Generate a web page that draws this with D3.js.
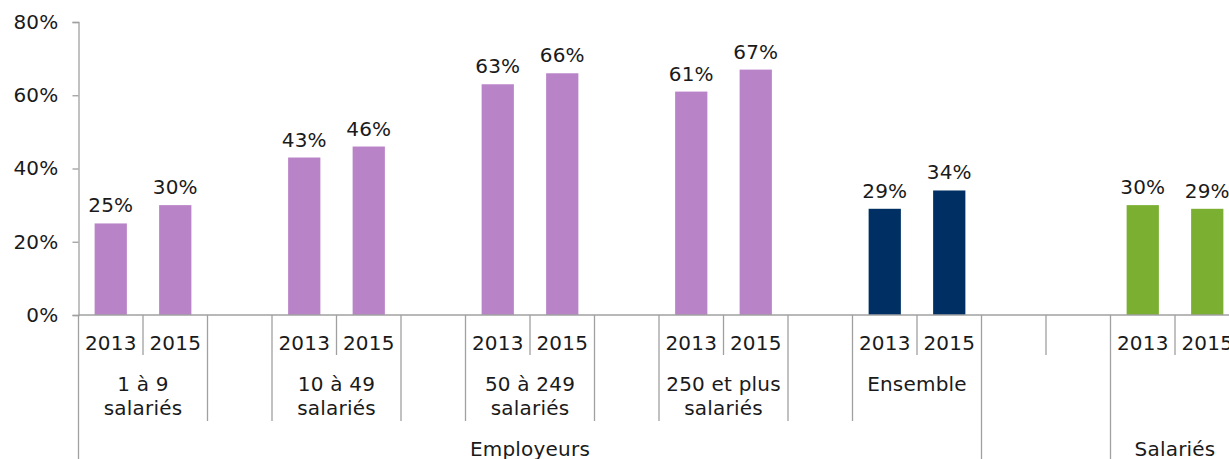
<!DOCTYPE html>
<html>
<head>
<meta charset="utf-8">
<script src="https://cdn.jsdelivr.net/npm/d3@7"></script>
<style>
  html, body { margin: 0; padding: 0; background: #fff; overflow: hidden; }
  svg text { font-family: "DejaVu Sans", Verdana, sans-serif; font-size: 20px; fill: #1a1a1a; letter-spacing: 0.2px; }
</style>
</head>
<body>
<svg id="chart" width="1229" height="459"></svg>
<script>
// Share (%) by year, grouped by company size, then overall and employees
const years = ["2013", "2015"];
const sizeGroups = [["1 à 9", "salariés"], ["10 à 49", "salariés"], ["50 à 249", "salariés"], ["250 et plus", "salariés"], ["Ensemble"]];
const employeurs2013 = [25, 43, 63, 61, 29];
const employeurs2015 = [30, 46, 66, 67, 34];
const salaries2013 = [30];
const salaries2015 = [29];
const topGroups = ["Employeurs", "", "Salariés"];
const yTicks = [0, 20, 40, 60, 80];

const purple = "#b983c8", navy = "#003063", green = "#7aaf31";

// Build the slot list: each slot is one position on the category axis
const slots = [];
sizeGroups.forEach((g, i) => {
  const color = i === sizeGroups.length - 1 ? navy : purple;
  const vals = [employeurs2013[i], employeurs2015[i]];
  years.forEach((y, j) => slots.push({ top: 0, mid: "g" + i, year: y, value: vals[j], color }));
  if (i < sizeGroups.length - 1) slots.push({ top: 0, mid: "s" + i, year: "", value: null });
});
// empty block between the two main groups
slots.push({ top: 1, mid: "blank", year: "", value: null });
slots.push({ top: 1, mid: "blank", year: "", value: null });
[salaries2013[0], salaries2015[0]].forEach((v, j) =>
  slots.push({ top: 2, mid: "sal", year: years[j], value: v, color: green }));
slots.forEach((s, i) => s.id = i);

const svg = d3.select("#chart");
const x0 = 78.5, step = 64.5;
const yBase = 315, yTop = 22;

const x = d3.scaleBand()
  .domain(slots.map(s => s.id))
  .range([x0, x0 + step * slots.length])
  .paddingInner(0.5)
  .paddingOuter(0.25);

const y = d3.scaleLinear().domain([0, 80]).range([yBase, yTop]);

const grey = "#a0a0a0";

// Bars
svg.append("g").selectAll("rect")
  .data(slots.filter(s => s.value != null))
  .join("rect")
  .attr("x", d => x(d.id))
  .attr("width", x.bandwidth())
  .attr("y", d => y(d.value))
  .attr("height", d => y(0) - y(d.value))
  .attr("fill", d => d.color);

// Value labels
svg.append("g").selectAll("text")
  .data(slots.filter(s => s.value != null))
  .join("text")
  .attr("x", d => x(d.id) + x.bandwidth() / 2)
  .attr("y", d => y(d.value) - 11)
  .attr("text-anchor", "middle")
  .text(d => d.value + "%");

// Y axis
const yAxis = svg.append("g")
  .attr("transform", `translate(${x0},0)`)
  .call(d3.axisLeft(y).tickValues(yTicks).tickSize(6).tickPadding(14).tickFormat(d => d + "%"));
yAxis.select(".domain").attr("stroke", grey).attr("stroke-width", 1.3);
yAxis.selectAll(".tick line").attr("stroke", grey).attr("stroke-width", 1.3);
yAxis.selectAll(".tick text").attr("font-family", null).attr("font-size", null).attr("fill", null);

// Category axis baseline
svg.append("line")
  .attr("x1", x0).attr("x2", 1229)
  .attr("y1", yBase).attr("y2", yBase)
  .attr("stroke", grey).attr("stroke-width", 1.3);

// Category separators: length depends on which level changes
const lvl1 = 355, lvl2 = 421, lvl3 = 459;
const bounds = d3.range(slots.length + 1).map(k => {
  let end;
  if (k === 0 || k === slots.length) end = lvl3;
  else if (slots[k - 1].top !== slots[k].top) end = lvl3;
  else if (slots[k - 1].mid !== slots[k].mid) end = lvl2;
  else end = lvl1;
  return { xp: x0 + k * step, end };
});
svg.append("g").selectAll("line")
  .data(bounds)
  .join("line")
  .attr("x1", d => d.xp).attr("x2", d => d.xp)
  .attr("y1", yBase).attr("y2", d => d.end)
  .attr("stroke", grey).attr("stroke-width", 1.3);

// Year labels
svg.append("g").selectAll("text")
  .data(slots.filter(s => s.year))
  .join("text")
  .attr("x", d => x(d.id) + x.bandwidth() / 2)
  .attr("y", 350)
  .attr("text-anchor", "middle")
  .text(d => d.year);

// Size-group labels (second level)
const midG = svg.append("g");
sizeGroups.forEach((lines, i) => {
  const ids = slots.filter(s => s.mid === "g" + i).map(s => s.id);
  const cx = (x(ids[0]) + x(ids[ids.length - 1]) + x.bandwidth()) / 2;
  const t = midG.append("text").attr("text-anchor", "middle");
  lines.forEach((ln, j) => t.append("tspan").attr("x", cx).attr("y", 391 + j * 24).text(ln));
});

// Top-level labels
topGroups.forEach((label, i) => {
  if (!label) return;
  const ids = slots.filter(s => s.top === i).map(s => s.id);
  const cx = x0 + step * (ids[0] + ids[ids.length - 1] + 1) / 2;
  svg.append("text")
    .attr("x", cx).attr("y", 456)
    .attr("text-anchor", "middle")
    .text(label);
});
</script>
</body>
</html>
